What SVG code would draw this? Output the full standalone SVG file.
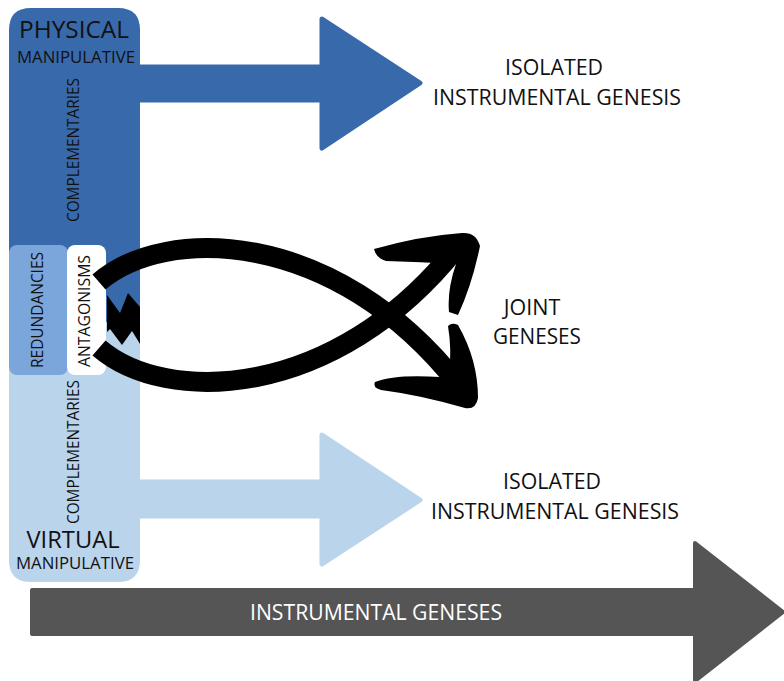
<svg xmlns="http://www.w3.org/2000/svg" width="784" height="681" viewBox="0 0 784 681">
<style>
text{font-family:"Open Sans","Noto Sans","Liberation Sans",sans-serif;fill:#111}
.big{font-size:24px}
.sm{font-size:16.5px}
.lab{font-size:21.5px}
.vert{font-size:16px}
.blk{fill:none;stroke:#000;stroke-width:20}
</style>
<rect width="784" height="681" fill="#fff"/>
<g id="gray-arrow">
<path d="M32,590 L695,590 L695,543 L783,612 L695,681 L695,634 L32,634 Z" fill="#555555" stroke="#555555" stroke-width="4" stroke-linejoin="round"/>
<text x="376" y="620" text-anchor="middle" style="fill:#fff;font-size:21px" textLength="252" lengthAdjust="spacingAndGlyphs">INSTRUMENTAL GENESES</text>
</g>
<g id="virtual">
<path d="M135,482 L322,482 L322,435 L420,500 L322,564 L322,516 L135,516 Z" fill="#bad4ec" stroke="#bad4ec" stroke-width="5" stroke-linejoin="round"/>
<path d="M9,310 L140,310 L140,560 Q140,582 118,582 L31,582 Q9,582 9,560 Z" fill="#bad4ec"/>
<text class="big" x="73" y="548" text-anchor="middle" textLength="93" lengthAdjust="spacingAndGlyphs">VIRTUAL</text>
<text class="sm" x="75" y="569" text-anchor="middle" textLength="118" lengthAdjust="spacingAndGlyphs">MANIPULATIVE</text>
<text class="vert" transform="translate(79,452) rotate(-90)" text-anchor="middle" textLength="144" lengthAdjust="spacingAndGlyphs">COMPLEMENTARIES</text>
</g>
<g id="physical">
<path d="M135,67 L322,67 L322,19 L420,83 L322,148 L322,100 L135,100 Z" fill="#386aab" stroke="#386aab" stroke-width="5" stroke-linejoin="round"/>
<path d="M9,322 L140,322 L140,30 Q140,8 118,8 L31,8 Q9,8 9,30 Z" fill="#386aab"/>
<text class="big" x="74" y="38" text-anchor="middle" textLength="110" lengthAdjust="spacingAndGlyphs">PHYSICAL</text>
<text class="sm" x="76" y="63" text-anchor="middle" textLength="118" lengthAdjust="spacingAndGlyphs">MANIPULATIVE</text>
<text class="vert" transform="translate(79,150) rotate(-90)" text-anchor="middle" textLength="144" lengthAdjust="spacingAndGlyphs">COMPLEMENTARIES</text>
</g>
<g id="redundancies">
<rect x="9" y="245" width="59" height="130" rx="8" fill="#7ba6db"/>
<text class="vert" transform="translate(43,310) rotate(-90)" text-anchor="middle" textLength="116" lengthAdjust="spacingAndGlyphs">REDUNDANCIES</text>
</g>
<g id="antagonisms">
<rect x="67" y="245" width="39" height="130" rx="8" fill="#fff"/>
<text class="vert" transform="translate(90,311) rotate(-90)" text-anchor="middle" textLength="112" lengthAdjust="spacingAndGlyphs">ANTAGONISMS</text>
<path d="M107,295 L120,313 L128,293 L140,307 L140,344 L132,331 L122,345 L110,329 L107,332 Z" fill="#000"/>
</g>
<g id="connectors">
<path class="blk" d="M99,282 C165,225 335,228 458,384"/>
<path class="blk" d="M99,348 C165,405 335,402 458,246"/>
<path d="M374,249 Q420,236 462,233 Q476,232 480,246 Q472,285 458,315 L449,312 Q447,290 456,264 Q420,262 386,261 Q376,258 374,249 Z" fill="#000"/>
<path d="M375,382 Q395,374 440,377 L449,375 Q452,350 448,326 Q452,322 458,325 Q478,360 478,398 Q476,410 465,408 Q420,395 381,390 Q372,387 375,382 Z" fill="#000"/>
</g>
<g id="labels">
<text class="lab" x="554" y="75" text-anchor="middle" textLength="98" lengthAdjust="spacingAndGlyphs">ISOLATED</text>
<text class="lab" x="557" y="105" text-anchor="middle" textLength="248" lengthAdjust="spacingAndGlyphs">INSTRUMENTAL GENESIS</text>
<text class="lab" x="532" y="315" text-anchor="middle">JOINT</text>
<text class="lab" x="537" y="344" text-anchor="middle" textLength="88" lengthAdjust="spacingAndGlyphs">GENESES</text>
<text class="lab" x="552" y="489" text-anchor="middle" textLength="98" lengthAdjust="spacingAndGlyphs">ISOLATED</text>
<text class="lab" x="555" y="519" text-anchor="middle" textLength="248" lengthAdjust="spacingAndGlyphs">INSTRUMENTAL GENESIS</text>
</g>
</svg>
